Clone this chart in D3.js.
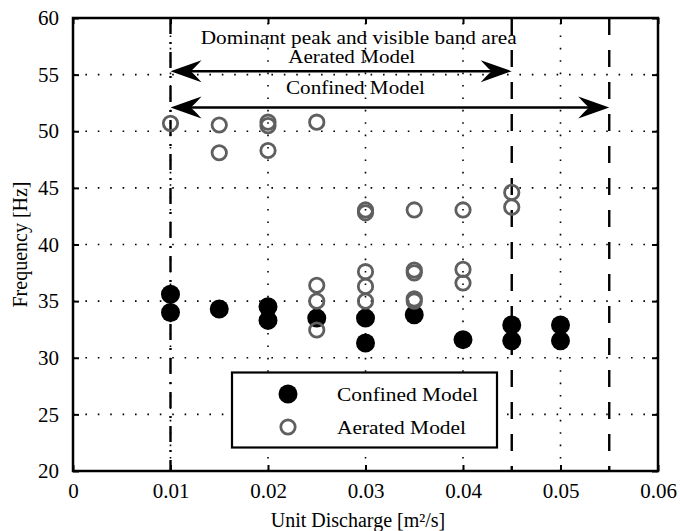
<!DOCTYPE html>
<html>
<head>
<meta charset="utf-8">
<script src="https://cdn.jsdelivr.net/npm/d3@7"></script>
<style>
  html, body { margin: 0; padding: 0; background: #fff; }
  svg { display: block; }
  text { font-family: "Liberation Serif", "Times New Roman", serif; fill: #000; }
</style>
</head>
<body>
<svg id="chart" width="680" height="531"></svg>
<script>
// ---- data ----
const xTickValues = [0, 0.01, 0.02, 0.03, 0.04, 0.05, 0.06];
const xTickLabels = ["0", "0.01", "0.02", "0.03", "0.04", "0.05", "0.06"];
const yTickValues = [20, 25, 30, 35, 40, 45, 50, 55, 60];
const yTickLabels = ["20", "25", "30", "35", "40", "45", "50", "55", "60"];

const confinedX = [0.01, 0.01, 0.015, 0.02, 0.02, 0.025, 0.03, 0.03, 0.035, 0.04, 0.045, 0.045, 0.05, 0.05];
const confinedY = [35.6, 34.0, 34.3, 34.5, 33.3, 33.5, 33.5, 31.3, 33.8, 31.6, 32.9, 31.5, 32.9, 31.5];

const aeratedX = [0.01, 0.015, 0.015, 0.02, 0.02, 0.02, 0.025, 0.03, 0.03, 0.035, 0.04, 0.045, 0.045,
                  0.025, 0.025, 0.025, 0.03, 0.03, 0.03, 0.035, 0.035, 0.035, 0.035, 0.04, 0.04];
const aeratedY = [50.7, 50.55, 48.1, 50.8, 50.5, 48.3, 50.8, 43.05, 42.8, 43.05, 43.05, 44.6, 43.3,
                  36.4, 35.0, 32.45, 37.6, 36.3, 35.0, 37.75, 37.5, 35.2, 35.0, 37.8, 36.6];

const bandStart = 0.01;          // dash-dot line
const aeratedBandEnd = 0.045;    // dashed line
const confinedBandEnd = 0.055;   // dashed line
const aeratedArrowLevel = 55.3;
const confinedArrowLevel = 52.1;

const annotationTitle = "Dominant peak and visible band area";
const aeratedLabel = "Aerated Model";
const confinedLabel = "Confined Model";
const xAxisTitle = "Unit Discharge [m\u00B2/s]";
const yAxisTitle = "Frequency [Hz]";

// ---- layout ----
const svg = d3.select("#chart");
const L = 73, R = 658, T = 18, B = 471;
const x = d3.scaleLinear().domain([0, 0.06]).range([L, R]);
const y = d3.scaleLinear().domain([20, 60]).range([B, T]);

// grid (dotted)
const grid = svg.append("g");
grid.selectAll("line.gx").data(xTickValues.slice(1, -1)).enter().append("line")
  .attr("x1", d => x(d)).attr("x2", d => x(d)).attr("y1", B).attr("y2", T)
  .attr("stroke", "#000").attr("stroke-width", 1.6).attr("stroke-dasharray", "1.6,10.8");
grid.selectAll("line.gy").data(yTickValues.slice(1, -1)).enter().append("line")
  .attr("x1", L).attr("x2", R).attr("y1", d => y(d)).attr("y2", d => y(d))
  .attr("stroke", "#000").attr("stroke-width", 1.6).attr("stroke-dasharray", "1.6,10.8");

// reference lines
const ref = svg.append("g");
ref.append("line").attr("x1", x(bandStart)).attr("x2", x(bandStart)).attr("y1", T).attr("y2", B)
  .attr("stroke", "#000").attr("stroke-width", 2.4).attr("stroke-dasharray", "16,8,2,8");
[aeratedBandEnd, confinedBandEnd].forEach(v => {
  ref.append("line").attr("x1", x(v)).attr("x2", x(v)).attr("y1", T).attr("y2", B)
    .attr("stroke", "#000").attr("stroke-width", 2.4).attr("stroke-dasharray", "17,15");
});

// arrows
function arrowHead(g, tipX, tipY, dir) {
  const len = 31, half = 11, notch = 20;
  const p = d3.path();
  p.moveTo(tipX, tipY);
  p.lineTo(tipX - dir * len, tipY - half);
  p.quadraticCurveTo(tipX - dir * (len - 8), tipY - 2, tipX - dir * notch, tipY);
  p.quadraticCurveTo(tipX - dir * (len - 8), tipY + 2, tipX - dir * len, tipY + half);
  p.closePath();
  g.append("path").attr("d", p.toString()).attr("fill", "#000");
}
const arrows = svg.append("g");
[[aeratedBandEnd, aeratedArrowLevel], [confinedBandEnd, confinedArrowLevel]].forEach(([end, lvl]) => {
  const x1 = x(bandStart), x2 = x(end), yy = y(lvl);
  arrows.append("line").attr("x1", x1 + 10).attr("x2", x2 - 10).attr("y1", yy).attr("y2", yy)
    .attr("stroke", "#000").attr("stroke-width", 2.4);
  arrowHead(arrows, x1, yy, -1);
  arrowHead(arrows, x2, yy, 1);
});

// annotation text
const ann = svg.append("g").attr("font-size", 19);
ann.append("text").attr("x", 358.7).attr("y", 43.5).attr("text-anchor", "middle")
  .attr("textLength", 316).attr("lengthAdjust", "spacingAndGlyphs").text(annotationTitle);
ann.append("text").attr("x", 351.7).attr("y", 63).attr("text-anchor", "middle")
  .attr("textLength", 127).attr("lengthAdjust", "spacingAndGlyphs").text(aeratedLabel);
ann.append("text").attr("x", 355.5).attr("y", 93.5).attr("text-anchor", "middle")
  .attr("textLength", 139).attr("lengthAdjust", "spacingAndGlyphs").text(confinedLabel);

// markers
const marks = svg.append("g");
marks.selectAll("circle.c").data(confinedX.map((d, i) => [d, confinedY[i]])).enter().append("circle")
  .attr("cx", d => x(d[0])).attr("cy", d => y(d[1])).attr("r", 9.5).attr("fill", "#000");
marks.selectAll("circle.a").data(aeratedX.map((d, i) => [d, aeratedY[i]])).enter().append("circle")
  .attr("cx", d => x(d[0])).attr("cy", d => y(d[1])).attr("r", 7.2)
  .attr("fill", "none").attr("stroke", "#5f5f5f").attr("stroke-width", 2.8);

// legend
const lg = svg.append("g");
lg.append("rect").attr("x", 232).attr("y", 372.5).attr("width", 265).attr("height", 75)
  .attr("fill", "#fff").attr("stroke", "#000").attr("stroke-width", 2.2);
lg.append("circle").attr("cx", 288).attr("cy", 394).attr("r", 9.5).attr("fill", "#000");
lg.append("circle").attr("cx", 288).attr("cy", 427).attr("r", 7.2).attr("fill", "none")
  .attr("stroke", "#5f5f5f").attr("stroke-width", 2.8);
lg.append("text").attr("x", 337).attr("y", 401).attr("font-size", 19)
  .attr("textLength", 141).attr("lengthAdjust", "spacingAndGlyphs").text(confinedLabel);
lg.append("text").attr("x", 337).attr("y", 434).attr("font-size", 19)
  .attr("textLength", 129).attr("lengthAdjust", "spacingAndGlyphs").text(aeratedLabel);

// axes (inward ticks on all sides)
const tickLen = 6;
const xAxisB = d3.axisBottom(x).tickValues(xTickValues).tickSize(-tickLen).tickPadding(12)
  .tickFormat((d, i) => xTickLabels[i]);
const xAxisT = d3.axisTop(x).tickValues(xTickValues).tickSize(-tickLen).tickFormat("");
const yAxisL = d3.axisLeft(y).tickValues(yTickValues).tickSize(-tickLen).tickPadding(14)
  .tickFormat((d, i) => yTickLabels[i]);
const yAxisR = d3.axisRight(y).tickValues(yTickValues).tickSize(-tickLen).tickFormat("");

function styleAxis(g) {
  g.select(".domain").remove();
  g.selectAll(".tick line").attr("stroke", "#000").attr("stroke-width", 2);
  g.selectAll(".tick text").attr("font-family", "Liberation Serif, Times New Roman, serif")
    .attr("font-size", 21).attr("fill", "#000");
}
svg.append("g").attr("transform", `translate(0,${B})`).call(xAxisB).call(styleAxis);
svg.append("g").attr("transform", `translate(0,${T})`).call(xAxisT).call(styleAxis);
svg.append("g").attr("transform", `translate(${L},0)`).call(yAxisL).call(styleAxis);
svg.append("g").attr("transform", `translate(${R},0)`).call(yAxisR).call(styleAxis);

// frame
svg.append("rect").attr("x", L).attr("y", T).attr("width", R - L).attr("height", B - T)
  .attr("fill", "none").attr("stroke", "#000").attr("stroke-width", 2.5);

// axis titles
svg.append("text").attr("x", 358).attr("y", 527).attr("text-anchor", "middle")
  .attr("font-size", 20).text(xAxisTitle);
svg.append("text").attr("transform", `translate(27,${(T + B) / 2}) rotate(-90)`)
  .attr("text-anchor", "middle").attr("font-size", 20).text(yAxisTitle);
</script>
</body>
</html>
